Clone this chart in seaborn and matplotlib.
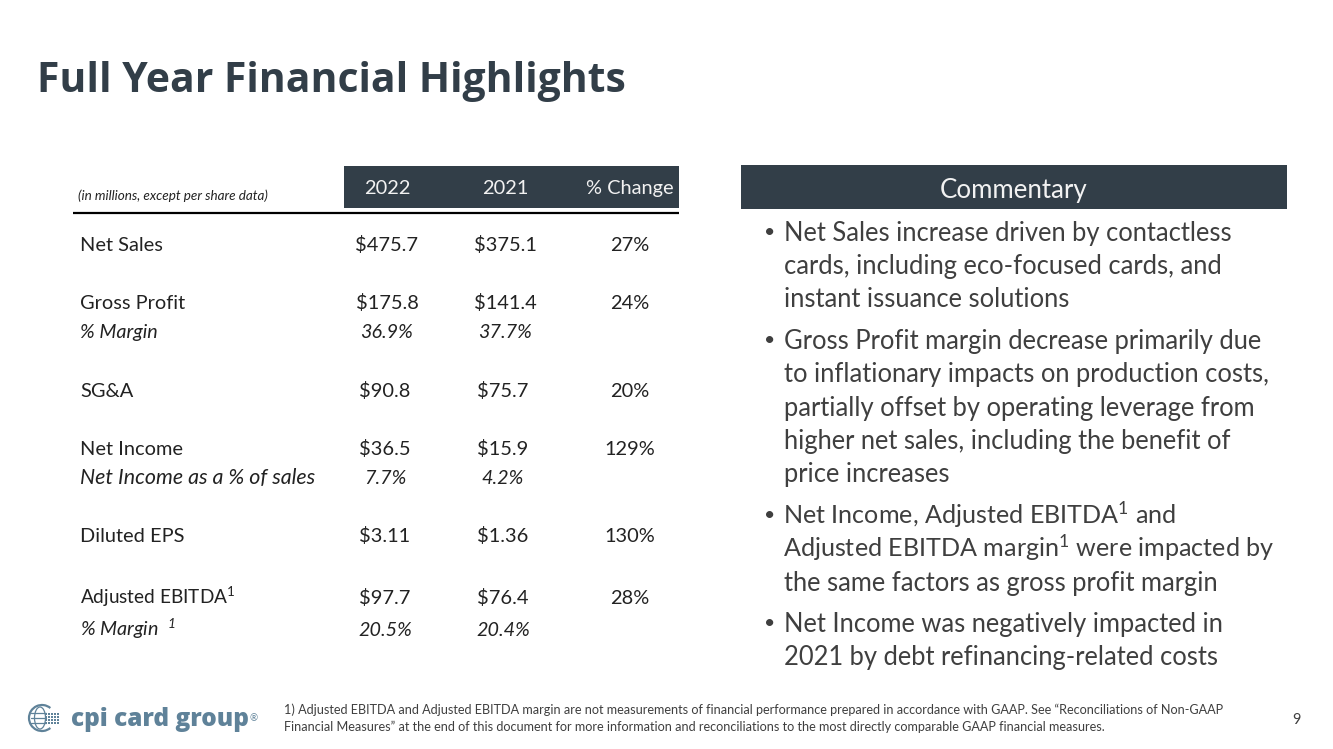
# -*- coding: utf-8 -*-
import numpy as np
import matplotlib
matplotlib.use('Agg')
import matplotlib.pyplot as plt
from matplotlib.patches import Rectangle, Arc, Ellipse
import seaborn as sns

sns.set_theme(style='white')
plt.rcParams['font.family'] = ['Lato', 'DejaVu Sans']
plt.rcParams['mathtext.default'] = 'regular'

# table contents
row_labels = ['Net Sales', 'Gross Profit', '% Margin', 'SG&A', 'Net Income',
              'Net Income as a % of sales', 'Diluted EPS',
              'Adjusted EBITDA$^{1}$', '% Margin  $^{1}$']
values_2022 = ['$475.7', '$175.8', '36.9%', '$90.8', '$36.5', '7.7%', '$3.11', '$97.7', '20.5%']
values_2021 = ['$375.1', '$141.4', '37.7%', '$75.7', '$15.9', '4.2%', '$1.36', '$76.4', '20.4%']
pct_change = ['27%', '24%', '', '20%', '129%', '', '130%', '28%', '']
italic_row = [False, False, True, False, False, True, False, False, True]
columns = ['2022', '2021', '% Change']

commentary = [
    'Net Sales increase driven by contactless',
    'cards, including eco-focused cards, and',
    'instant issuance solutions',
    'Gross Profit margin decrease primarily due',
    'to inflationary impacts on production costs,',
    'partially offset by operating leverage from',
    'higher net sales, including the benefit of',
    'price increases',
    'Net Income, Adjusted EBITDA$^{1}$ and',
    'Adjusted EBITDA margin$^{1}$ were impacted by',
    'the same factors as gross profit margin',
    'Net Income was negatively impacted in',
    '2021 by debt refinancing-related costs',
]
footnote = ['1) Adjusted EBITDA and Adjusted EBITDA margin are not measurements of financial performance prepared in accordance with GAAP. See \u201cReconciliations of Non-GAAP',
            'Financial Measures\u201d at the end of this document for more information and reconciliations to the most directly comparable GAAP financial measures.']

# layout, in picture pixels
row_y = [251, 309, 338, 397, 455, 484, 542, 604, 636]
comment_y = [241, 274, 307, 349, 382, 416, 449, 482, 524, 557, 591, 632, 665]
bullet_y = [238, 346, 521, 629]
col_x = [387, 505, 630]

DARK = '#323e48'
TEXT = '#3f3f3f'
BLUE = '#5f8299'

fig = plt.figure(figsize=(13.33, 7.49), dpi=100)
ax = fig.add_axes([0, 0, 1, 1])
ax.set_xlim(0, 1333)
ax.set_ylim(749, 0)
ax.axis('off')

ax.text(37, 92, 'Full Year Financial Highlights', fontsize=29.4, fontweight='bold',
        family='Open Sans', color=DARK, va='baseline')

# table header
ax.add_patch(Rectangle((344, 166), 335, 42, color=DARK, lw=0))
ax.plot([73, 679], [213, 213], color='black', lw=1.6, solid_capstyle='butt')
ax.text(78, 200, '(in millions, except per share data)', fontsize=9.75, style='italic',
        color='#222222', va='baseline')
for x, col in zip(col_x, columns):
    ax.text(x, 194, col, fontsize=14.4, color='#f2f2f2', ha='center', va='baseline')

# table rows
for i, y in enumerate(row_y):
    st = 'italic' if italic_row[i] else 'normal'
    fs = 14.2 if italic_row[i] else 14.4
    offset = 2 if i > 2 else 0
    label_fs = fs
    if i == 5:
        label_fs = 15.4
    if i == 7:
        label_fs = 13.7
    ax.text(80, y, row_labels[i], fontsize=label_fs, style=st, color='#222222', va='baseline')
    ax.text(col_x[0] - offset, y, values_2022[i], fontsize=fs, style=st, color='#222222', ha='center', va='baseline')
    ax.text(col_x[1] - offset, y, values_2021[i], fontsize=fs, style=st, color='#222222', ha='center', va='baseline')
    ax.text(col_x[2], y, pct_change[i], fontsize=fs, color='#222222', ha='center', va='baseline')

# commentary box
ax.add_patch(Rectangle((741, 165), 546, 44, color=DARK, lw=0))
ax.text(1014, 198, 'Commentary', fontsize=18.6, color='#f2f2f2', ha='center', va='baseline')
for line, y in zip(commentary, comment_y):
    has_sup = '$' in line
    ax.text(783 if has_sup else 784, y, line, fontsize=18.1 if has_sup else 18.4, color=TEXT, va='baseline')
for y in bullet_y:
    ax.text(764, y, '\u2022', fontsize=14, color=TEXT, va='baseline')

# logo
ax.add_patch(Arc((42, 718), 26, 26, theta1=50, theta2=310, ec=BLUE, lw=1.6))
ax.add_patch(Ellipse((40, 718), 11, 22, fill=False, ec=BLUE, lw=0.9))
for gy in [713, 718, 723]:
    ax.plot([31, 46], [gy, gy], color=BLUE, lw=0.9)
for dx in range(45, 60, 3):
    for dy in range(713, 725, 3):
        ax.add_patch(Rectangle((dx, dy), 2, 2, color=BLUE, lw=0))
ax.text(71, 726, 'cpi card group', fontsize=17.6, fontweight=800, family='Open Sans',
        color=BLUE, va='baseline')
ax.text(250, 721, '\u00ae', fontsize=7, color=BLUE, va='baseline')

# footnote and page number
ax.text(284, 714, footnote[0], fontsize=9.14, color=TEXT, va='baseline')
ax.text(284, 731, footnote[1], fontsize=9.14, color=TEXT, va='baseline')
ax.text(1296, 724, '9', fontsize=10.5, color=TEXT, ha='center', va='baseline')

fig.savefig('out.png', dpi=100)
